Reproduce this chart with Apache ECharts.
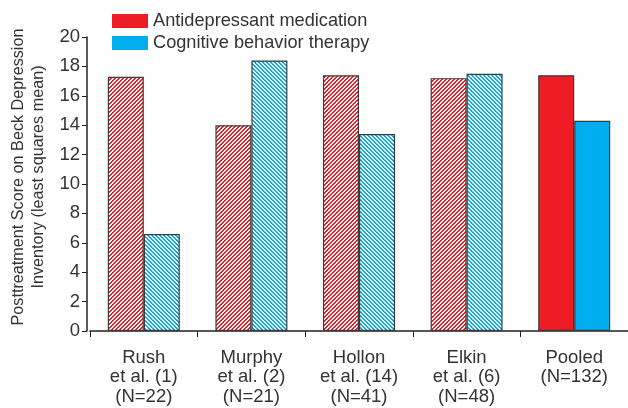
<!DOCTYPE html>
<html>
<head>
<meta charset="utf-8">
<script src="https://cdn.jsdelivr.net/npm/echarts@6/dist/echarts.min.js"></script>
<style>
html,body{margin:0;padding:0;background:#fff;}
#chart{width:628px;height:408px;}
</style>
</head>
<body>
<div id="chart"></div>
<script>
const categories = ['Rush\net al. (1)\n(N=22)', 'Murphy\net al. (2)\n(N=21)', 'Hollon\net al. (14)\n(N=41)', 'Elkin\net al. (6)\n(N=48)', 'Pooled\n(N=132)'];
const seriesNames = ['Antidepressant medication', 'Cognitive behavior therapy'];
const antidepressant = [17.3, 14.0, 17.4, 17.2, 17.4];
const cognitive = [6.6, 18.4, 13.4, 17.5, 14.3];
const hatched = [true, true, true, true, false];
const yTicks = [0, 20, 2];

const RED = '#ee1c25';
const BLUE = '#00aeef';

function stripes(color, dir) {
  const n = 4;
  const c = document.createElement('canvas');
  c.width = n; c.height = n;
  const ctx = c.getContext('2d');
  ctx.fillStyle = '#ffffff';
  ctx.fillRect(0, 0, n, n);
  ctx.fillStyle = color;
  for (let x = 0; x < n; x++) {
    for (let y = 0; y < n; y++) {
      const k = dir > 0 ? (x + y) % n : ((x - y) % n + n) % n;
      if (k === 0 || k === 1) ctx.fillRect(x, y, 1, 1);
    }
  }
  return { image: c, repeat: 'repeat' };
}
const redPat = stripes(RED, 1);
const bluePat = stripes(BLUE, -1);

function build(vals, solid, pat) {
  return vals.map((v, i) => ({
    value: v,
    itemStyle: { color: hatched[i] ? pat : solid }
  }));
}

const chart = echarts.init(document.getElementById('chart'), null, { renderer: 'canvas' });
const font = 'Liberation Sans, Arial, sans-serif';
chart.setOption({
  animation: false,
  textStyle: { fontFamily: font },
  legend: {
    orient: 'vertical',
    left: 107,
    top: 7,
    itemWidth: 36,
    itemHeight: 14,
    itemGap: 4,
    icon: 'rect',
    itemStyle: { borderWidth: 0 },
    textStyle: { fontSize: 18.2, color: '#333', fontFamily: font, lineHeight: 18 },
    data: seriesNames
  },
  grid: { left: 90, right: -2, top: 37, bottom: 77 },
  xAxis: {
    type: 'category',
    data: categories,
    axisLine: { lineStyle: { color: '#222', width: 1.5 } },
    axisTick: { show: true, length: 6, lineStyle: { color: '#222' } },
    axisLabel: { fontSize: 18.5, color: '#333', lineHeight: 19.5, margin: 17, fontFamily: font }
  },
  yAxis: {
    type: 'value',
    min: yTicks[0], max: yTicks[1], interval: yTicks[2],
    offset: 3,
    name: 'Posttreatment Score on Beck Depression\nInventory (least squares mean)',
    nameLocation: 'middle',
    nameRotate: 90,
    nameGap: 33,
    nameTextStyle: { fontSize: 16.2, color: '#333', lineHeight: 20, fontFamily: font, padding: [0, 0, 0, 14] },
    axisLine: { show: true, lineStyle: { color: '#222', width: 1.5 } },
    axisTick: { show: true, length: 5, lineStyle: { color: '#222' } },
    axisLabel: { fontSize: 18.5, color: '#333', margin: 7, fontFamily: font },
    splitLine: { show: false }
  },
  series: [
    {
      name: seriesNames[0], type: 'bar', barWidth: 36, barGap: '0%',
      itemStyle: { color: RED, borderColor: '#3a3a3a', borderWidth: 1.2 },
      data: build(antidepressant, RED, redPat)
    },
    {
      name: seriesNames[1], type: 'bar', barWidth: 36, barGap: '0%',
      itemStyle: { color: BLUE, borderColor: '#3a3a3a', borderWidth: 1.2 },
      data: build(cognitive, BLUE, bluePat)
    }
  ]
});
</script>
</body>
</html>
